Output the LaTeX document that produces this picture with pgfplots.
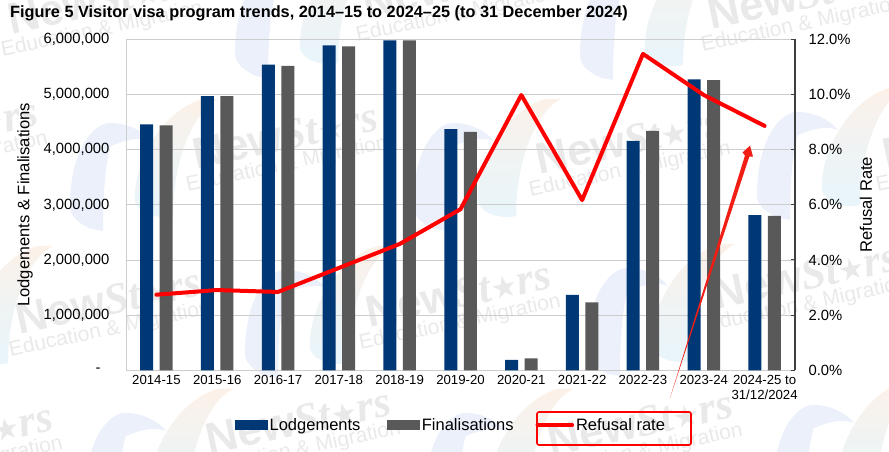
\documentclass[border=0pt]{standalone}
\usepackage{pgfplots}
\pgfplotsset{compat=1.18}
\usepackage{fontspec}
\setmainfont{Liberation Sans}
\newfontfamily\djv{DejaVu Sans}
\newfontfamily\wmserif{Liberation Serif}
\definecolor{lodge}{RGB}{0,56,118}
\definecolor{final}{RGB}{89,89,89}
\definecolor{gridc}{RGB}{205,205,205}
\definecolor{wm}{RGB}{233,233,233}
\definecolor{arcA}{RGB}{235,240,250}
\definecolor{arcB}{RGB}{232,245,251}
\definecolor{arcC}{RGB}{252,241,232}
\definecolor{arrowred}{RGB}{240,30,20}
\newcommand{\wmark}[2]{%
  \begin{scope}[shift={(#1,{452-(#2)})}]
  \node[rotate=12,text=wm,font=\fontsize{44}{44}\selectfont\bfseries] at (0,0) {New\wmserif\itshape St{\djv\fontsize{30}{30}\selectfont★}rs};
  \node[rotate=12,text=wm,font=\fontsize{21}{21}\selectfont] at (2,-30) {Education \& Migration};
  \end{scope}}
\newcommand{\logo}[2]{%
  \begin{scope}[shift={(#1,{452-(#2)})},yscale=-1]
  \fill[arcA] (-40,83) .. controls (-40,28) and (-17,0) .. (0,0) .. controls (18,0) and (33,8) .. (41,18) .. controls (28,13) and (13,18) .. (1,23) .. controls (-5,38) and (-7,78) .. (-7,108) -- (-19,106) .. controls (-32,100) and (-40,93) .. (-40,83) -- cycle;
  \shade[top color=arcC,bottom color=arcB,middle color=arcB!60!arcC] (25,78) .. controls (23,38) and (53,-12) .. (92,-24) -- (108,-24) .. controls (83,-12) and (63,38) .. (63,93) .. controls (53,96) and (28,93) .. (25,78) -- cycle;
  \end{scope}}
\begin{document}
\begin{tikzpicture}[x=1pt,y=1pt]
\path[use as bounding box] (0,0) rectangle (889,452);
\begin{scope}
\clip (0,0) rectangle (889,452);
\logo{275}{-30}\logo{620}{-28}
\logo{110}{123}\logo{453}{123}\logo{797}{112}
\logo{-55}{270}\logo{285}{270}\logo{627}{268}
\logo{125}{413}\logo{465}{413}\logo{813}{405}
\wmark{100}{0}\wmark{455}{-15}\wmark{800}{-5}
\wmark{-55}{130}\wmark{285}{135}\wmark{628}{140}\wmark{975}{135}
\wmark{108}{300}\wmark{458}{293}\wmark{805}{275}
\wmark{-40}{435}\wmark{298}{420}\wmark{640}{422}
\end{scope}
\begin{axis}[
  at={(126pt,81.7pt)},anchor=south west,
  scale only axis,width=669pt,height=331pt,
  xmin=-0.5,xmax=10.5,ymin=0,ymax=6000000,
  scaled y ticks=false,
  axis y line*=left,axis x line*=bottom,
  y axis line style={draw=gridc,-},
  x axis line style={draw=none,-},
  ymajorgrids,grid style={gridc,line width=0.8pt},
  xtick={0,...,10},
  xticklabels={2014-15,2015-16,2016-17,2017-18,2018-19,2019-20,2020-21,2021-22,2022-23,2023-24,{2024-25 to\\31/12/2024}},
  xticklabel style={align=center,font=\fontsize{13.2}{15.5}\selectfont,yshift=-1pt},
  xtick style={draw=none},
  ytick={0,1000000,2000000,3000000,4000000,5000000,6000000},
  yticklabels={{-\hspace*{9pt}},{1,000,000},{2,000,000},{3,000,000},{4,000,000},{5,000,000},{6,000,000}},
  yticklabel style={font=\fontsize{14.8}{16}\selectfont,xshift=-13pt},
  ytick style={draw=none},
  ylabel={Lodgements \& Finalisations},
  every axis y label/.style={at={(axis description cs:-0.151,0.5)},rotate=90,anchor=center,font=\fontsize{16.6}{18}\selectfont},
  title={\bfseries Figure 5 Visitor visa program trends, 2014--15 to 2024--25 (to 31 December 2024)},
  every axis title shift=0pt,
  title style={at={(axis description cs:-0.1734,1.0795)},anchor=west,font=\fontsize{16.3}{18}\selectfont,inner sep=0pt},
  clip=false,
]
\addplot[ybar,bar width=13pt,bar shift=-9.75pt,fill=lodge,draw=none] coordinates {
(0,4459000)(1,4970000)(2,5540000)(3,5890000)(4,5980000)(5,4370000)(6,187000)(7,1365000)(8,4160000)(9,5275000)(10,2815000)};
\addplot[ybar,bar width=13pt,bar shift=9.75pt,fill=final,draw=none] coordinates {
(0,4440000)(1,4970000)(2,5520000)(3,5870000)(4,5980000)(5,4320000)(6,217000)(7,1233000)(8,4340000)(9,5260000)(10,2800000)};
\end{axis}
\begin{axis}[
  at={(126pt,81.7pt)},anchor=south west,
  scale only axis,width=669pt,height=331pt,
  xmin=-0.5,xmax=10.5,ymin=0,ymax=12,
  axis y line*=right,axis x line=none,
  y axis line style={draw=black!75,line width=1.5pt,-},
  ytick={0,2,4,6,8,10,12},
  yticklabels={0.0\%,2.0\%,4.0\%,6.0\%,8.0\%,10.0\%,12.0\%},
  yticklabel style={font=\fontsize{14.8}{16}\selectfont,xshift=10pt},
  ytick style={draw=black!75,line width=1pt},
  tick align=inside,major tick length=4pt,
  ylabel={Refusal Rate},
  every axis y label/.style={at={(axis description cs:1.106,0.5)},rotate=90,anchor=center,font=\fontsize{16.6}{18}\selectfont},
  clip=false,
  legend columns=3,
  legend style={draw=none,fill=none,font=\fontsize{16.5}{18}\selectfont,anchor=center,
    at={(axis description cs:0.486,-0.165)},
    /tikz/column 2/.style={column sep=25pt},
    /tikz/column 4/.style={column sep=20pt}},
  legend cell align=left,
]
\addlegendimage{legend image code/.code={\fill[lodge] (0pt,-4.5pt) rectangle (32pt,4.5pt);}}\addlegendentry{Lodgements}
\addlegendimage{legend image code/.code={\fill[final] (0pt,-4.5pt) rectangle (32pt,4.5pt);}}\addlegendentry{Finalisations}
\addplot[red,line width=4pt,line join=round,line cap=round,
  legend image code/.code={\draw[red,line width=3.5pt] (0pt,0pt) -- (35pt,0pt);}] coordinates {
(0,2.74)(1,2.91)(2,2.84)(3,3.71)(4,4.58)(5,5.84)(6,9.98)(7,6.17)(8,11.47)(9,9.98)(10,8.86)};
\addlegendentry{Refusal rate}
\end{axis}
\fill[arrowred] (670,54) -- (745,296.6) -- (742.5,299.5) -- (750,306.3) -- (753,295.5) -- (749.3,295.4) -- cycle;
\draw[red,line width=1.6pt,rounded corners=2pt] (537,7) rectangle (691,40);
\end{tikzpicture}
\end{document}
